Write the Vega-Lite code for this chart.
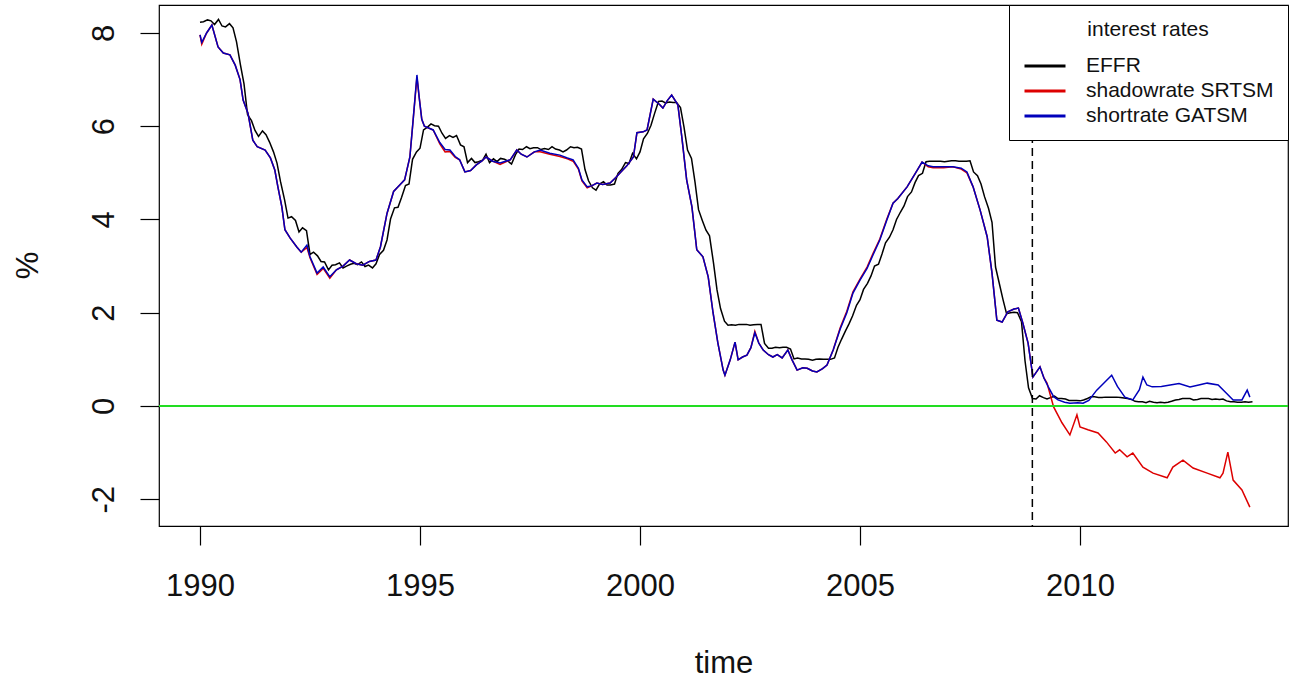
{
"$schema": "https://vega.github.io/schema/vega-lite/v6.json",
"width": 1129, "height": 521,
"autosize": {"type": "none"},
"padding": {"left": 159, "top": 5, "right": 6, "bottom": 152},
"background": "white",
"data": {"values": [{}]},
"config": {
  "font": "Liberation Sans",
  "view": {"stroke": "black", "strokeWidth": 1.2},
  "axis": {"grid": false, "domain": false, "tickColor": "black", "tickWidth": 1.2, "tickSize": 19,
    "labelColor": "#111", "labelFont": "Liberation Sans", "labelFontSize": 31,
    "titleFont": "Liberation Sans", "titleFontSize": 31, "titleFontWeight": "normal", "titleColor": "#111"},
  "legend": {"orient": "top-right", "offset": 0, "titleFontSize": 21, "titleFontWeight": "normal", "titleColor": "#111",
    "titleAnchor": "middle", "titlePadding": 12, "labelFontSize": 21, "labelColor": "#111", "labelOffset": 27, "labelLimit": 400,
    "symbolType": "M-1.64,0H1.64", "symbolSize": 625, "symbolStrokeWidth": 3, "symbolOffset": 8, "padding": 14, "rowPadding": 1,
    "fillColor": "white", "strokeColor": "black", "cornerRadius": 0, "titleFont": "Liberation Sans", "labelFont": "Liberation Sans"}
},
"datasets": {
"effr": [
{"t":1990.00,"v":8.23},{"t":1990.08,"v":8.24},{"t":1990.17,"v":8.28},{"t":1990.25,"v":8.26},{"t":1990.33,"v":8.18},{"t":1990.42,"v":8.29},{"t":1990.50,"v":8.15},{"t":1990.58,"v":8.13},{"t":1990.67,"v":8.20},{"t":1990.75,"v":8.11},{"t":1990.83,"v":7.81},{"t":1990.92,"v":7.31},
{"t":1991.00,"v":6.91},{"t":1991.08,"v":6.25},{"t":1991.17,"v":6.12},{"t":1991.25,"v":5.91},{"t":1991.33,"v":5.78},{"t":1991.42,"v":5.90},{"t":1991.50,"v":5.82},{"t":1991.58,"v":5.66},{"t":1991.67,"v":5.45},{"t":1991.75,"v":5.21},{"t":1991.83,"v":4.81},{"t":1991.92,"v":4.43},
{"t":1992.00,"v":4.03},{"t":1992.08,"v":4.06},{"t":1992.17,"v":3.98},{"t":1992.25,"v":3.73},{"t":1992.33,"v":3.82},{"t":1992.42,"v":3.76},{"t":1992.50,"v":3.25},{"t":1992.58,"v":3.30},{"t":1992.67,"v":3.22},{"t":1992.75,"v":3.10},{"t":1992.83,"v":3.09},{"t":1992.92,"v":2.92},
{"t":1993.00,"v":3.02},{"t":1993.08,"v":3.03},{"t":1993.17,"v":3.07},{"t":1993.25,"v":2.96},{"t":1993.33,"v":3.00},{"t":1993.42,"v":3.04},{"t":1993.50,"v":3.06},{"t":1993.58,"v":3.03},{"t":1993.67,"v":3.09},{"t":1993.75,"v":2.99},{"t":1993.83,"v":3.02},{"t":1993.92,"v":2.96},
{"t":1994.00,"v":3.05},{"t":1994.08,"v":3.25},{"t":1994.17,"v":3.34},{"t":1994.25,"v":3.56},{"t":1994.33,"v":4.01},{"t":1994.42,"v":4.25},{"t":1994.50,"v":4.26},{"t":1994.58,"v":4.47},{"t":1994.67,"v":4.73},{"t":1994.75,"v":4.76},{"t":1994.83,"v":5.29},{"t":1994.92,"v":5.45},
{"t":1995.00,"v":5.53},{"t":1995.08,"v":5.92},{"t":1995.17,"v":5.98},{"t":1995.25,"v":6.05},{"t":1995.33,"v":6.01},{"t":1995.42,"v":6.00},{"t":1995.50,"v":5.85},{"t":1995.58,"v":5.74},{"t":1995.67,"v":5.80},{"t":1995.75,"v":5.76},{"t":1995.83,"v":5.80},{"t":1995.92,"v":5.60},
{"t":1996.00,"v":5.56},{"t":1996.08,"v":5.22},{"t":1996.17,"v":5.31},{"t":1996.25,"v":5.22},{"t":1996.33,"v":5.24},{"t":1996.42,"v":5.27},{"t":1996.50,"v":5.40},{"t":1996.58,"v":5.22},{"t":1996.67,"v":5.30},{"t":1996.75,"v":5.24},{"t":1996.83,"v":5.31},{"t":1996.92,"v":5.29},
{"t":1997.00,"v":5.25},{"t":1997.08,"v":5.19},{"t":1997.17,"v":5.39},{"t":1997.25,"v":5.51},{"t":1997.33,"v":5.50},{"t":1997.42,"v":5.56},{"t":1997.50,"v":5.52},{"t":1997.58,"v":5.54},{"t":1997.67,"v":5.54},{"t":1997.75,"v":5.50},{"t":1997.83,"v":5.52},{"t":1997.92,"v":5.50},
{"t":1998.00,"v":5.56},{"t":1998.08,"v":5.51},{"t":1998.17,"v":5.49},{"t":1998.25,"v":5.45},{"t":1998.33,"v":5.49},{"t":1998.42,"v":5.56},{"t":1998.50,"v":5.54},{"t":1998.58,"v":5.55},{"t":1998.67,"v":5.51},{"t":1998.75,"v":5.07},{"t":1998.83,"v":4.83},{"t":1998.92,"v":4.68},
{"t":1999.00,"v":4.63},{"t":1999.08,"v":4.76},{"t":1999.17,"v":4.81},{"t":1999.25,"v":4.74},{"t":1999.33,"v":4.74},{"t":1999.42,"v":4.76},{"t":1999.50,"v":4.99},{"t":1999.58,"v":5.07},{"t":1999.67,"v":5.22},{"t":1999.75,"v":5.20},{"t":1999.83,"v":5.42},{"t":1999.92,"v":5.30},
{"t":2000.00,"v":5.45},{"t":2000.08,"v":5.73},{"t":2000.17,"v":5.85},{"t":2000.25,"v":6.02},{"t":2000.33,"v":6.27},{"t":2000.42,"v":6.53},{"t":2000.50,"v":6.54},{"t":2000.58,"v":6.50},{"t":2000.67,"v":6.52},{"t":2000.75,"v":6.51},{"t":2000.83,"v":6.51},{"t":2000.92,"v":6.40},
{"t":2001.00,"v":5.98},{"t":2001.08,"v":5.49},{"t":2001.17,"v":5.31},{"t":2001.25,"v":4.80},{"t":2001.33,"v":4.21},{"t":2001.42,"v":3.97},{"t":2001.50,"v":3.77},{"t":2001.58,"v":3.65},{"t":2001.67,"v":3.07},{"t":2001.75,"v":2.49},{"t":2001.83,"v":2.09},{"t":2001.92,"v":1.82},
{"t":2002.00,"v":1.73},{"t":2002.08,"v":1.74},{"t":2002.17,"v":1.73},{"t":2002.25,"v":1.75},{"t":2002.33,"v":1.75},{"t":2002.42,"v":1.75},{"t":2002.50,"v":1.73},{"t":2002.58,"v":1.74},{"t":2002.67,"v":1.75},{"t":2002.75,"v":1.75},{"t":2002.83,"v":1.34},{"t":2002.92,"v":1.24},
{"t":2003.00,"v":1.24},{"t":2003.08,"v":1.26},{"t":2003.17,"v":1.25},{"t":2003.25,"v":1.26},{"t":2003.33,"v":1.26},{"t":2003.42,"v":1.22},{"t":2003.50,"v":1.01},{"t":2003.58,"v":1.03},{"t":2003.67,"v":1.01},{"t":2003.75,"v":1.01},{"t":2003.83,"v":1.00},{"t":2003.92,"v":0.98},
{"t":2004.00,"v":1.00},{"t":2004.08,"v":1.01},{"t":2004.17,"v":1.00},{"t":2004.25,"v":1.00},{"t":2004.33,"v":1.00},{"t":2004.42,"v":1.03},{"t":2004.50,"v":1.26},{"t":2004.58,"v":1.43},{"t":2004.67,"v":1.61},{"t":2004.75,"v":1.76},{"t":2004.83,"v":1.93},{"t":2004.92,"v":2.16},
{"t":2005.00,"v":2.28},{"t":2005.08,"v":2.50},{"t":2005.17,"v":2.63},{"t":2005.25,"v":2.79},{"t":2005.33,"v":3.00},{"t":2005.42,"v":3.04},{"t":2005.50,"v":3.26},{"t":2005.58,"v":3.50},{"t":2005.67,"v":3.62},{"t":2005.75,"v":3.78},{"t":2005.83,"v":4.00},{"t":2005.92,"v":4.16},
{"t":2006.00,"v":4.29},{"t":2006.08,"v":4.49},{"t":2006.17,"v":4.59},{"t":2006.25,"v":4.79},{"t":2006.33,"v":4.94},{"t":2006.42,"v":4.99},{"t":2006.50,"v":5.24},{"t":2006.58,"v":5.25},{"t":2006.67,"v":5.25},{"t":2006.75,"v":5.25},{"t":2006.83,"v":5.25},{"t":2006.92,"v":5.24},
{"t":2007.00,"v":5.25},{"t":2007.08,"v":5.26},{"t":2007.17,"v":5.26},{"t":2007.25,"v":5.25},{"t":2007.33,"v":5.25},{"t":2007.42,"v":5.25},{"t":2007.50,"v":5.26},{"t":2007.58,"v":5.02},{"t":2007.67,"v":4.94},{"t":2007.75,"v":4.76},{"t":2007.83,"v":4.49},{"t":2007.92,"v":4.24},
{"t":2008.00,"v":3.94},{"t":2008.08,"v":2.98},{"t":2008.17,"v":2.61},{"t":2008.25,"v":2.28},{"t":2008.33,"v":1.98},{"t":2008.42,"v":2.00},{"t":2008.50,"v":2.01},{"t":2008.58,"v":2.00},{"t":2008.67,"v":1.81},{"t":2008.75,"v":0.97},{"t":2008.83,"v":0.39},{"t":2008.92,"v":0.16},
{"t":2009.00,"v":0.15},{"t":2009.08,"v":0.22},{"t":2009.17,"v":0.18},{"t":2009.25,"v":0.15},{"t":2009.33,"v":0.18},{"t":2009.42,"v":0.21},{"t":2009.50,"v":0.16},{"t":2009.58,"v":0.16},{"t":2009.67,"v":0.15},{"t":2009.75,"v":0.12},{"t":2009.83,"v":0.12},{"t":2009.92,"v":0.12},
{"t":2010.00,"v":0.11},{"t":2010.08,"v":0.13},{"t":2010.17,"v":0.16},{"t":2010.25,"v":0.20},{"t":2010.33,"v":0.20},{"t":2010.42,"v":0.18},{"t":2010.50,"v":0.18},{"t":2010.58,"v":0.19},{"t":2010.67,"v":0.19},{"t":2010.75,"v":0.19},{"t":2010.83,"v":0.19},{"t":2010.92,"v":0.18},
{"t":2011.00,"v":0.17},{"t":2011.08,"v":0.16},{"t":2011.17,"v":0.14},{"t":2011.25,"v":0.10},{"t":2011.33,"v":0.09},{"t":2011.42,"v":0.09},{"t":2011.50,"v":0.07},{"t":2011.58,"v":0.10},{"t":2011.67,"v":0.08},{"t":2011.75,"v":0.07},{"t":2011.83,"v":0.08},{"t":2011.92,"v":0.07},
{"t":2012.00,"v":0.08},{"t":2012.08,"v":0.10},{"t":2012.17,"v":0.13},{"t":2012.25,"v":0.14},{"t":2012.33,"v":0.16},{"t":2012.42,"v":0.16},{"t":2012.50,"v":0.16},{"t":2012.58,"v":0.13},{"t":2012.67,"v":0.14},{"t":2012.75,"v":0.16},{"t":2012.83,"v":0.16},{"t":2012.92,"v":0.16},
{"t":2013.00,"v":0.14},{"t":2013.08,"v":0.15},{"t":2013.17,"v":0.14},{"t":2013.25,"v":0.15},{"t":2013.33,"v":0.11},{"t":2013.42,"v":0.09},{"t":2013.50,"v":0.09},{"t":2013.58,"v":0.08},{"t":2013.67,"v":0.08},{"t":2013.75,"v":0.09},{"t":2013.83,"v":0.08},{"t":2013.92,"v":0.09}
],
"gatsm": [
{"t":1990.00,"v":7.96},{"t":1990.04,"v":7.80},{"t":1990.15,"v":8.00},{"t":1990.27,"v":8.17},{"t":1990.41,"v":7.70},{"t":1990.53,"v":7.57},{"t":1990.68,"v":7.53},{"t":1990.80,"v":7.31},{"t":1990.91,"v":7.00},{"t":1990.98,"v":6.56},
{"t":1991.09,"v":6.28},{"t":1991.20,"v":5.70},{"t":1991.30,"v":5.56},{"t":1991.48,"v":5.49},{"t":1991.60,"v":5.32},{"t":1991.70,"v":5.06},{"t":1991.77,"v":4.70},{"t":1991.86,"v":4.27},{"t":1991.93,"v":3.78},
{"t":1992.05,"v":3.60},{"t":1992.20,"v":3.41},{"t":1992.30,"v":3.30},{"t":1992.43,"v":3.45},{"t":1992.50,"v":3.20},{"t":1992.66,"v":2.85},{"t":1992.80,"v":2.98},{"t":1992.95,"v":2.77},
{"t":1993.10,"v":2.92},{"t":1993.25,"v":3.00},{"t":1993.40,"v":3.13},{"t":1993.55,"v":3.05},{"t":1993.70,"v":3.02},{"t":1993.85,"v":3.10},
{"t":1994.00,"v":3.13},{"t":1994.10,"v":3.41},{"t":1994.25,"v":4.13},{"t":1994.40,"v":4.60},{"t":1994.55,"v":4.75},{"t":1994.65,"v":4.85},{"t":1994.77,"v":5.34},{"t":1994.85,"v":6.20},{"t":1994.93,"v":7.10},{"t":1994.98,"v":6.63},
{"t":1995.04,"v":6.15},{"t":1995.10,"v":6.00},{"t":1995.30,"v":5.92},{"t":1995.45,"v":5.65},{"t":1995.57,"v":5.50},{"t":1995.68,"v":5.49},{"t":1995.80,"v":5.35},{"t":1995.90,"v":5.28},
{"t":1996.02,"v":5.02},{"t":1996.15,"v":5.05},{"t":1996.28,"v":5.17},{"t":1996.40,"v":5.25},{"t":1996.50,"v":5.34},{"t":1996.65,"v":5.25},{"t":1996.82,"v":5.21},
{"t":1997.05,"v":5.28},{"t":1997.20,"v":5.49},{"t":1997.30,"v":5.40},{"t":1997.43,"v":5.34},{"t":1997.60,"v":5.45},{"t":1997.73,"v":5.49},{"t":1997.95,"v":5.42},
{"t":1998.18,"v":5.38},{"t":1998.35,"v":5.32},{"t":1998.48,"v":5.28},{"t":1998.60,"v":5.10},{"t":1998.68,"v":4.85},{"t":1998.80,"v":4.70},{"t":1998.90,"v":4.72},
{"t":1999.02,"v":4.78},{"t":1999.15,"v":4.75},{"t":1999.32,"v":4.78},{"t":1999.45,"v":4.90},{"t":1999.55,"v":5.00},{"t":1999.70,"v":5.15},{"t":1999.85,"v":5.34},{"t":1999.93,"v":5.86},
{"t":2000.07,"v":5.88},{"t":2000.16,"v":5.92},{"t":2000.30,"v":6.58},{"t":2000.45,"v":6.46},{"t":2000.52,"v":6.39},{"t":2000.62,"v":6.55},{"t":2000.72,"v":6.67},{"t":2000.86,"v":6.46},{"t":2000.95,"v":5.77},
{"t":2001.06,"v":4.85},{"t":2001.18,"v":4.27},{"t":2001.29,"v":3.35},{"t":2001.43,"v":3.20},{"t":2001.55,"v":2.77},{"t":2001.66,"v":2.00},{"t":2001.77,"v":1.35},{"t":2001.89,"v":0.77},{"t":2001.93,"v":0.66},
{"t":2002.05,"v":0.99},{"t":2002.16,"v":1.37},{"t":2002.23,"v":0.99},{"t":2002.33,"v":1.05},{"t":2002.43,"v":1.09},{"t":2002.52,"v":1.25},{"t":2002.61,"v":1.57},{"t":2002.70,"v":1.35},{"t":2002.80,"v":1.20},{"t":2002.92,"v":1.10},
{"t":2003.02,"v":1.05},{"t":2003.12,"v":1.10},{"t":2003.23,"v":1.03},{"t":2003.36,"v":1.20},{"t":2003.45,"v":1.00},{"t":2003.57,"v":0.77},{"t":2003.70,"v":0.82},{"t":2003.80,"v":0.81},{"t":2003.92,"v":0.75},
{"t":2004.02,"v":0.73},{"t":2004.15,"v":0.80},{"t":2004.25,"v":0.88},{"t":2004.39,"v":1.20},{"t":2004.55,"v":1.65},{"t":2004.70,"v":2.00},{"t":2004.84,"v":2.42},
{"t":2005.00,"v":2.70},{"t":2005.16,"v":2.95},{"t":2005.30,"v":3.25},{"t":2005.45,"v":3.56},{"t":2005.61,"v":3.99},{"t":2005.75,"v":4.35},{"t":2005.86,"v":4.45},
{"t":2006.07,"v":4.70},{"t":2006.25,"v":4.98},{"t":2006.41,"v":5.23},{"t":2006.55,"v":5.15},{"t":2006.66,"v":5.13},{"t":2006.90,"v":5.13},
{"t":2007.11,"v":5.13},{"t":2007.30,"v":5.10},{"t":2007.43,"v":5.02},{"t":2007.57,"v":4.70},{"t":2007.73,"v":4.20},{"t":2007.89,"v":3.63},
{"t":2008.00,"v":2.85},{"t":2008.11,"v":1.84},{"t":2008.23,"v":1.80},{"t":2008.36,"v":2.02},{"t":2008.50,"v":2.08},{"t":2008.60,"v":2.10},{"t":2008.70,"v":1.78},{"t":2008.82,"v":1.35},{"t":2008.93,"v":0.62},
{"t":2009.09,"v":0.84},{"t":2009.18,"v":0.60},{"t":2009.28,"v":0.41},{"t":2009.40,"v":0.20},{"t":2009.50,"v":0.13},{"t":2009.65,"v":0.08},{"t":2009.77,"v":0.06},{"t":2009.95,"v":0.07},
{"t":2010.07,"v":0.06},{"t":2010.20,"v":0.12},{"t":2010.38,"v":0.34},{"t":2010.55,"v":0.50},{"t":2010.72,"v":0.66},{"t":2010.85,"v":0.42},
{"t":2011.02,"v":0.19},{"t":2011.20,"v":0.13},{"t":2011.35,"v":0.35},{"t":2011.43,"v":0.62},{"t":2011.52,"v":0.45},{"t":2011.64,"v":0.41},{"t":2011.85,"v":0.42},
{"t":2012.05,"v":0.45},{"t":2012.25,"v":0.48},{"t":2012.50,"v":0.41},{"t":2012.70,"v":0.45},{"t":2012.89,"v":0.49},
{"t":2013.14,"v":0.45},{"t":2013.30,"v":0.30},{"t":2013.48,"v":0.13},{"t":2013.68,"v":0.13},{"t":2013.80,"v":0.34},{"t":2013.86,"v":0.19}
],
"srtsm": [
{"t":1990.00,"v":7.96},{"t":1990.04,"v":7.76},{"t":1990.15,"v":8.00},{"t":1990.27,"v":8.17},{"t":1990.41,"v":7.70},{"t":1990.53,"v":7.57},{"t":1990.68,"v":7.53},{"t":1990.80,"v":7.31},{"t":1990.91,"v":7.00},{"t":1990.98,"v":6.56},
{"t":1991.09,"v":6.28},{"t":1991.20,"v":5.70},{"t":1991.30,"v":5.56},{"t":1991.48,"v":5.49},{"t":1991.60,"v":5.32},{"t":1991.70,"v":5.06},{"t":1991.77,"v":4.70},{"t":1991.86,"v":4.27},{"t":1991.93,"v":3.78},
{"t":1992.05,"v":3.60},{"t":1992.20,"v":3.41},{"t":1992.30,"v":3.30},{"t":1992.43,"v":3.40},{"t":1992.50,"v":3.18},{"t":1992.66,"v":2.82},{"t":1992.80,"v":2.95},{"t":1992.95,"v":2.74},
{"t":1993.10,"v":2.92},{"t":1993.25,"v":3.00},{"t":1993.40,"v":3.13},{"t":1993.55,"v":3.05},{"t":1993.70,"v":3.02},{"t":1993.85,"v":3.10},
{"t":1994.00,"v":3.13},{"t":1994.10,"v":3.41},{"t":1994.25,"v":4.13},{"t":1994.40,"v":4.60},{"t":1994.55,"v":4.75},{"t":1994.65,"v":4.85},{"t":1994.77,"v":5.34},{"t":1994.85,"v":6.20},{"t":1994.93,"v":7.05},{"t":1994.98,"v":6.63},
{"t":1995.04,"v":6.15},{"t":1995.10,"v":6.00},{"t":1995.30,"v":5.92},{"t":1995.45,"v":5.62},{"t":1995.57,"v":5.45},{"t":1995.68,"v":5.46},{"t":1995.80,"v":5.33},{"t":1995.90,"v":5.28},
{"t":1996.02,"v":5.02},{"t":1996.15,"v":5.05},{"t":1996.28,"v":5.17},{"t":1996.40,"v":5.25},{"t":1996.50,"v":5.34},{"t":1996.65,"v":5.25},{"t":1996.82,"v":5.18},
{"t":1997.05,"v":5.28},{"t":1997.20,"v":5.49},{"t":1997.30,"v":5.40},{"t":1997.43,"v":5.34},{"t":1997.60,"v":5.45},{"t":1997.73,"v":5.45},{"t":1997.95,"v":5.40},
{"t":1998.18,"v":5.35},{"t":1998.35,"v":5.30},{"t":1998.48,"v":5.25},{"t":1998.60,"v":5.08},{"t":1998.68,"v":4.83},{"t":1998.80,"v":4.68},{"t":1998.90,"v":4.72},
{"t":1999.02,"v":4.78},{"t":1999.15,"v":4.75},{"t":1999.32,"v":4.78},{"t":1999.45,"v":4.90},{"t":1999.55,"v":5.00},{"t":1999.70,"v":5.15},{"t":1999.85,"v":5.34},{"t":1999.93,"v":5.86},
{"t":2000.07,"v":5.88},{"t":2000.16,"v":5.92},{"t":2000.30,"v":6.58},{"t":2000.45,"v":6.46},{"t":2000.52,"v":6.39},{"t":2000.62,"v":6.55},{"t":2000.72,"v":6.67},{"t":2000.86,"v":6.46},{"t":2000.95,"v":5.77},
{"t":2001.06,"v":4.85},{"t":2001.18,"v":4.27},{"t":2001.29,"v":3.35},{"t":2001.43,"v":3.20},{"t":2001.55,"v":2.77},{"t":2001.66,"v":2.00},{"t":2001.77,"v":1.35},{"t":2001.89,"v":0.77},{"t":2001.93,"v":0.66},
{"t":2002.05,"v":0.99},{"t":2002.16,"v":1.37},{"t":2002.23,"v":0.99},{"t":2002.33,"v":1.05},{"t":2002.43,"v":1.09},{"t":2002.52,"v":1.25},{"t":2002.61,"v":1.60},{"t":2002.70,"v":1.35},{"t":2002.80,"v":1.20},{"t":2002.92,"v":1.10},
{"t":2003.02,"v":1.05},{"t":2003.12,"v":1.10},{"t":2003.23,"v":1.03},{"t":2003.36,"v":1.20},{"t":2003.45,"v":1.00},{"t":2003.57,"v":0.77},{"t":2003.70,"v":0.82},{"t":2003.80,"v":0.81},{"t":2003.92,"v":0.75},
{"t":2004.02,"v":0.73},{"t":2004.15,"v":0.80},{"t":2004.25,"v":0.88},{"t":2004.39,"v":1.20},{"t":2004.55,"v":1.68},{"t":2004.70,"v":2.03},{"t":2004.84,"v":2.45},
{"t":2005.00,"v":2.72},{"t":2005.16,"v":2.98},{"t":2005.30,"v":3.28},{"t":2005.45,"v":3.58},{"t":2005.61,"v":4.01},{"t":2005.75,"v":4.35},{"t":2005.86,"v":4.45},
{"t":2006.07,"v":4.70},{"t":2006.25,"v":4.98},{"t":2006.41,"v":5.23},{"t":2006.55,"v":5.13},{"t":2006.66,"v":5.11},{"t":2006.90,"v":5.11},
{"t":2007.11,"v":5.13},{"t":2007.30,"v":5.08},{"t":2007.43,"v":5.00},{"t":2007.57,"v":4.70},{"t":2007.73,"v":4.20},{"t":2007.89,"v":3.63},
{"t":2008.00,"v":2.85},{"t":2008.11,"v":1.84},{"t":2008.23,"v":1.80},{"t":2008.36,"v":2.02},{"t":2008.50,"v":2.08},{"t":2008.60,"v":2.10},{"t":2008.70,"v":1.78},{"t":2008.82,"v":1.35},{"t":2008.93,"v":0.62},
{"t":2009.09,"v":0.84},{"t":2009.18,"v":0.60},{"t":2009.25,"v":0.49},{"t":2009.40,"v":-0.02},{"t":2009.59,"v":-0.36},{"t":2009.77,"v":-0.62},{"t":2009.93,"v":-0.19},
{"t":2010.00,"v":-0.45},{"t":2010.18,"v":-0.51},{"t":2010.41,"v":-0.58},{"t":2010.60,"v":-0.77},{"t":2010.80,"v":-1.01},{"t":2010.90,"v":-0.94},
{"t":2011.07,"v":-1.09},{"t":2011.20,"v":-1.01},{"t":2011.43,"v":-1.31},{"t":2011.66,"v":-1.44},{"t":2011.98,"v":-1.54},
{"t":2012.11,"v":-1.31},{"t":2012.34,"v":-1.16},{"t":2012.57,"v":-1.33},{"t":2012.89,"v":-1.44},
{"t":2013.18,"v":-1.54},{"t":2013.25,"v":-1.44},{"t":2013.36,"v":-0.99},{"t":2013.48,"v":-1.59},{"t":2013.68,"v":-1.80},{"t":2013.86,"v":-2.17}
]
},
"layer": [
{"data": {"name": "effr"}, "mark": {"type": "line", "strokeWidth": 1.5},
 "encoding": {
  "x": {"field": "t", "type": "quantitative", "scale": {"domain": [1989.068, 2014.727], "nice": false, "zero": false},
    "axis": {"values": [1990, 1995, 2000, 2005, 2010], "format": "d", "title": "time", "labelPadding": 26, "labelBaseline": "top", "labelFlush": false, "labelOverlap": false, "titleY": 146, "titleBaseline": "alphabetic"}},
  "y": {"field": "v", "type": "quantitative", "scale": {"domain": [-2.574, 8.6], "nice": false, "zero": false},
    "axis": {"values": [-2, 0, 2, 4, 6, 8], "labelExpr": "'' + datum.value", "title": "%", "labelAngle": -90, "labelAlign": "center", "labelBaseline": "alphabetic", "labelPadding": 27, "labelOverlap": false, "titleX": -122, "titleY": 260, "titleAngle": -90, "titleBaseline": "alphabetic", "titleAlign": "center"}},
  "color": {"datum": "EFFR", "type": "nominal",
    "scale": {"domain": ["EFFR", "shadowrate SRTSM", "shortrate GATSM"], "range": ["#000000", "#dd0000", "#0000bb"]},
    "legend": {"title": "interest rates"}}
 }},
{"data": {"name": "srtsm"}, "mark": {"type": "line", "strokeWidth": 1.5},
 "encoding": {"x": {"field": "t", "type": "quantitative"}, "y": {"field": "v", "type": "quantitative"}, "color": {"datum": "shadowrate SRTSM", "type": "nominal"}}},
{"data": {"name": "gatsm"}, "mark": {"type": "line", "strokeWidth": 1.5},
 "encoding": {"x": {"field": "t", "type": "quantitative"}, "y": {"field": "v", "type": "quantitative"}, "color": {"datum": "shortrate GATSM", "type": "nominal"}}},
{"mark": {"type": "rule", "color": "#22dd22", "strokeWidth": 2}, "encoding": {"y": {"datum": 0}}},
{"mark": {"type": "rule", "color": "black", "strokeDash": [8, 5], "strokeWidth": 1.5}, "encoding": {"x": {"datum": 2008.917}}}
]
}
